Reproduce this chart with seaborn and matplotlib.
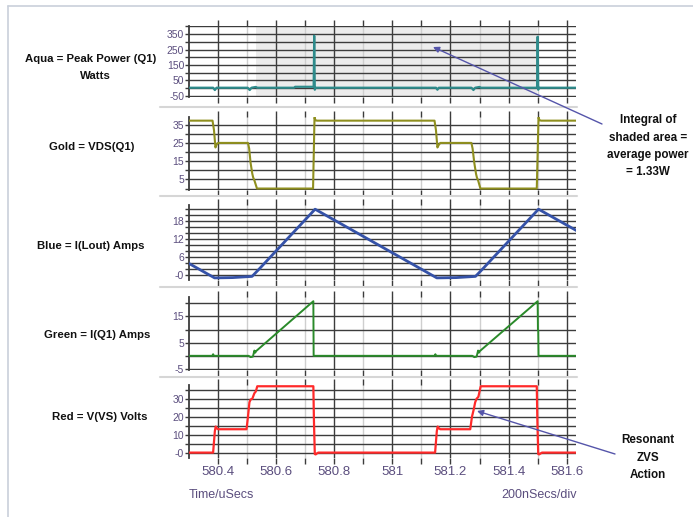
import numpy as np
import pandas as pd
import matplotlib
matplotlib.use("Agg")
import matplotlib.pyplot as plt
import seaborn as sns
from matplotlib.patches import FancyArrowPatch
from matplotlib.lines import Line2D

# ---------------- data ----------------
aqua_t = [580.300, 580.383, 580.389, 580.395, 580.502, 580.509, 580.515, 580.530, 580.535,
          580.662, 580.665, 580.729, 580.731, 580.733, 580.735, 581.150, 581.155, 581.160,
          581.272, 581.279, 581.285, 581.300, 581.305, 581.498, 581.500, 581.502, 581.504, 581.635]
aqua_v = [3, 3, -12, 3, 3, -12, 3, 8, 3,
          3, 9, 9, 339, -10, 3, 3, -10, 3,
          3, -12, 3, 8, 3, 3, 333, -10, 3, 3]

gold_t = [580.300, 580.381, 580.386, 580.391, 580.395, 580.400,
          580.503, 580.507, 580.512, 580.518, 580.521, 580.525, 580.534,
          580.727, 580.732, 580.735, 580.740,
          581.145, 581.150, 581.155, 581.160, 581.165,
          581.272, 581.276, 581.282, 581.288, 581.291, 581.295, 581.303,
          581.497, 581.503, 581.506, 581.512, 581.635]
gold_v = [37.2, 37.2, 32, 22.5, 24, 25,
          25, 22, 14, 8, 6, 4.5, 0,
          0, 39, 37.5, 37.2,
          37.2, 32, 22.5, 24, 25,
          25, 22, 14, 8, 6, 4.5, 0,
          0, 39, 37.5, 37.2, 37.2]

blue_t = [580.300, 580.388, 580.450, 580.517, 580.540, 580.734,
          581.153, 581.220, 581.286, 581.309, 581.503, 581.635]
blue_v = [3.7, -1.1, -1.0, -0.6, 1.7, 21.8,
          -1.1, -1.0, -0.6, 1.7, 21.8, 14.6]

green_t = [580.300, 580.380, 580.383, 580.386,
           580.505, 580.512, 580.520, 580.525, 580.528, 580.531,
           580.728, 580.729,
           581.145, 581.148, 581.151,
           581.275, 581.282, 581.290, 581.295, 581.298, 581.301,
           581.500, 581.501, 581.502, 581.503, 581.635]
green_v = [0, 0, 0.6, 0,
           0, -0.5, -0.3, 2, 1.2, 1.8,
           20.8, 0,
           0, 0.6, 0,
           0, -0.5, -0.3, 2, 1.2, 1.8,
           20.8, 10, 9.5, 0, 0]

red_t = [580.300, 580.383, 580.389, 580.392, 580.396, 580.400,
         580.498, 580.503, 580.508, 580.512, 580.518, 580.525, 580.530, 580.535,
         580.728, 580.730, 580.733, 580.736, 580.740, 580.745,
         581.147, 581.153, 581.156, 581.160, 581.165,
         581.268, 581.274, 581.280, 581.285, 581.290, 581.296, 581.300, 581.304,
         581.497, 581.499, 581.502, 581.505, 581.510, 581.515, 581.635]
red_v = [0, 0, 12, 14.5, 13.5, 13,
         13, 20, 28, 29.5, 30, 33, 34, 36.9,
         36.9, 18, -0.8, -1, -0.5, 0,
         0, 12, 14.5, 13.5, 13,
         13, 20, 24, 28, 30, 31, 34, 36.9,
         36.9, 18, -0.8, -1, -0.5, 0, 0]

shade_span = [580.532, 581.498]

x_major = [580.4, 580.6, 580.8, 581.0, 581.2, 581.4, 581.6]
x_labels = ["580.4", "580.6", "580.8", "581", "581.2", "581.4", "581.6"]
x_minor = [580.5, 580.7, 580.9, 581.1, 581.3, 581.5]

panel_labels = [["Aqua = Peak Power (Q1)", "Watts"], ["Gold = VDS(Q1)"],
                ["Blue = I(Lout) Amps"], ["Green = I(Q1) Amps"], ["Red = V(VS) Volts"]]

# ---------------- style ----------------
sns.set_style("white")
plt.rcParams["font.family"] = ["Liberation Sans", "DejaVu Sans"]

W, H = 693, 517
fig = plt.figure(figsize=(W / 100, H / 100), dpi=100)

GRID = "#3c3c3c"
MINOR = "#cfcfcf"
TICKC = "#5b4e7e"
XL, XR = 189, 576

panels = [
    dict(t=aqua_t, v=aqua_v, c="#2e8b8b", lw=1.6, top=26, bot=97, ylim=(-57, 402),
         grid=list(range(-50, 401, 50)), labels={-50: "-50", 50: "50", 150: "150", 250: "250", 350: "350"},
         lab_y=[59, 76]),
    dict(t=gold_t, v=gold_v, c="#8f8f1f", lw=1.5, top=117, bot=190, ylim=(-0.8, 39.2),
         grid=list(range(0, 36, 5)), labels={5: "5", 15: "15", 25: "25", 35: "35"},
         lab_y=[147]),
    dict(t=blue_t, v=blue_v, c="#3552a8", lw=2.0, top=205, bot=280, ylim=(-1.8, 23.2),
         grid=list(range(0, 23, 2)), labels={0: "-0", 6: "6", 12: "12", 18: "18"},
         lab_y=[246]),
    dict(t=green_t, v=green_v, c="#2a8a2a", lw=1.4, top=297, bot=370, ylim=(-5.4, 22.4),
         grid=list(range(-5, 21, 5)), labels={-5: "-5", 5: "5", 15: "15"},
         lab_y=[335]),
    dict(t=red_t, v=red_v, c="#ff2a2a", lw=1.6, top=385, bot=458, ylim=(-3, 37.6),
         grid=list(range(0, 36, 5)), labels={0: "-0", 10: "10", 20: "20", 30: "30"},
         lab_y=[417]),
]

axes = []
for i, p in enumerate(panels):
    ax = fig.add_axes([XL / W, 1 - p["bot"] / H, (XR - XL) / W, (p["bot"] - p["top"]) / H])
    axes.append(ax)
    if i == 0:
        ax.axvspan(shade_span[0], shade_span[1], color="#ececec", zorder=0, lw=0)
    df = pd.DataFrame({"t": p["t"], "v": p["v"]})
    sns.lineplot(data=df, x="t", y="v", ax=ax, color=p["c"], lw=p["lw"],
                 sort=False, estimator=None, zorder=5)
    ax.set_xlim(580.3, 581.632)
    ax.set_ylim(*p["ylim"])
    ax.set_xticks(x_major)
    ax.set_xticks(x_minor, minor=True)
    ax.set_yticks(p["grid"])
    ax.set_yticklabels([p["labels"].get(g, "") for g in p["grid"]])
    ax.set_xlabel("")
    ax.set_ylabel("")
    ax.grid(True, axis="y", color=GRID, lw=1.0, zorder=1)
    ax.grid(True, axis="x", which="major", color=GRID, lw=1.0, zorder=1)
    ax.grid(True, axis="x", which="minor", color=MINOR, lw=1.0, zorder=1)
    ax.set_axisbelow(True)
    for s in ["top", "bottom", "right"]:
        ax.spines[s].set_visible(False)
    ax.spines["left"].set_color(GRID)
    ax.spines["left"].set_linewidth(1.3)
    ax.tick_params(axis="y", which="both", direction="out", length=3, width=1, color=GRID,
                   left=True, right=False, labelsize=7.5, labelcolor=TICKC, pad=0.5)
    ax.tick_params(axis="x", which="both", direction="out", length=4, width=1, color=GRID,
                   top=True, bottom=True, labelbottom=(i == 4), labelsize=9.5,
                   labelcolor=TICKC, pad=2)
    if i == 4:
        ax.set_xticklabels(x_labels)
    for k, (txt, yy) in enumerate(zip(panel_labels[i], p["lab_y"])):
        xc = [91, 95][k] if i == 0 else [92, 91, 97, 100][i - 1]
        fig.text(xc / W, 1 - yy / H, txt, ha="center", va="center", fontsize=8.2,
                 fontweight="bold", color="#111111")

# separators between panels
for yy in [107, 196, 287, 377]:
    fig.add_artist(Line2D([160 / W, 577 / W], [1 - yy / H, 1 - yy / H],
                          transform=fig.transFigure, color="#d6d6d6", lw=1.5))

# outer frame
fig.add_artist(Line2D([8 / W, 8 / W], [0, 1 - 6 / H], transform=fig.transFigure,
                      color="#c9d0da", lw=1.2))
fig.add_artist(Line2D([8 / W, 1], [1 - 6 / H, 1 - 6 / H], transform=fig.transFigure,
                      color="#c9d0da", lw=1.2))

# right-hand annotations
for txt, yy in zip(["Integral of", "shaded area =", "average power", "= 1.33W"],
                   [120, 138, 155, 172]):
    fig.text(648 / W, 1 - yy / H, txt, ha="center", va="center", fontsize=8.4,
             fontweight="bold", color="#111111")
for txt, yy in zip(["Resonant", "ZVS", "Action"], [440, 458, 475]):
    fig.text(648 / W, 1 - yy / H, txt, ha="center", va="center", fontsize=8.4,
             fontweight="bold", color="#111111")

def arrow(x0, y0, x1, y1):
    fig.add_artist(FancyArrowPatch((x0 / W, 1 - y0 / H), (x1 / W, 1 - y1 / H),
                                   transform=fig.transFigure, arrowstyle="-|>",
                                   mutation_scale=9, color="#5555aa", lw=1.0,
                                   shrinkA=0, shrinkB=0, zorder=10))

arrow(602, 124, 433, 47)
arrow(615, 454, 477, 411)

fig.text(189 / W, 1 - 495 / H, "Time/uSecs", ha="left", va="center", fontsize=9, color=TICKC)
fig.text(577 / W, 1 - 495 / H, "200nSecs/div", ha="right", va="center", fontsize=9, color=TICKC)

fig.savefig("out.png", dpi=100)
